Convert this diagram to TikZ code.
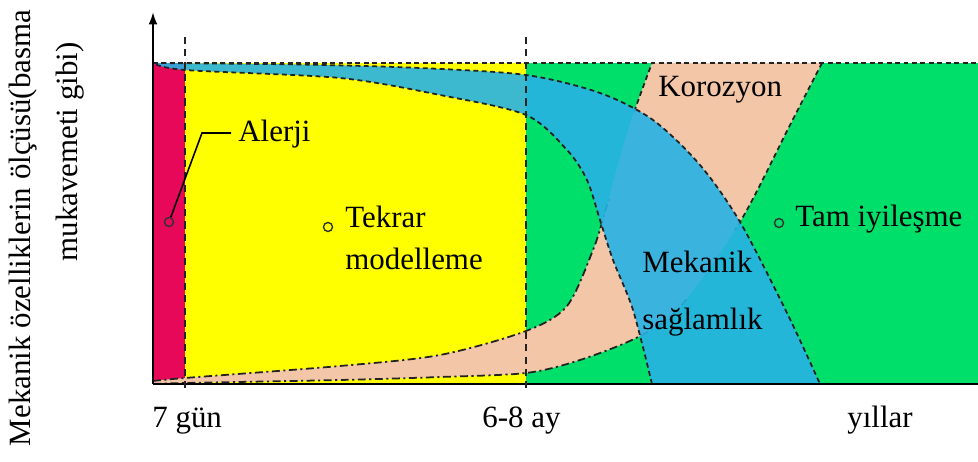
\documentclass[tikz,border=0pt]{standalone}
\usepackage{fontspec}
\setmainfont{Liberation Serif}
\usetikzlibrary{arrows.meta}
\definecolor{cred}{HTML}{E8085A}
\definecolor{cyel}{HTML}{FFFF00}
\definecolor{cgrn}{HTML}{00DF6A}
\definecolor{cblu}{HTML}{27B2E6}
\definecolor{cpch}{HTML}{F4C6A8}
\definecolor{cln}{HTML}{222222}
\tikzset{
  lbl/.style={font=\fontsize{17.6}{21}\selectfont, inner sep=0pt, anchor=base west},
  dsh/.style={draw=cln, line width=1pt, dash pattern=on 2.8pt off 2pt},
  dshdot/.style={draw=cln, line width=1pt, dash pattern=on 4.5pt off 2pt on 1.2pt off 2pt},
  vdash/.style={draw=cln, line width=0.9pt, dash pattern=on 4pt off 3pt},
  dot/.style={circle, draw=black!80, line width=0.8pt, minimum size=0.18cm, inner sep=0pt},
}
\begin{document}
\begin{tikzpicture}[x=0.02cm,y=-0.02cm]
\useasboundingbox (0,0) rectangle (978,462);
% background regions
\fill[cgrn] (526,63) rectangle (978,384);
\fill[cyel] (185,63) rectangle (526,384);
\fill[cred] (153,63) rectangle (185,384);
% corrosion (peach) region
\fill[cpch] plot[smooth] coordinates {(153,381)(185,378)(340,366)(440,355)(526,331)(567,306)(593,250)(605,212)(628,130)(652,63)}
  -- plot[smooth] coordinates {(822,63)(790,125)(740,222)(680,307)(638,337)(580,360)(526,373)(440,377)(340,380)(185,383)(153,384)} -- cycle;
% peach boundary lines
\begin{scope}
\clip (150,200) rectangle (980,390);
\draw[dshdot] plot[smooth] coordinates {(153,381)(185,378)(340,366)(440,355)(526,331)(567,306)(593,250)(605,212)(628,130)(652,63)};
\end{scope}
\begin{scope}
\clip (150,300) rectangle (980,390);
\draw[dshdot] plot[smooth] coordinates {(822,63)(790,125)(740,222)(680,307)(638,337)(580,360)(526,373)(440,377)(340,380)(185,383)(153,384)};
\end{scope}
\begin{scope}
\clip (150,60) rectangle (980,115);
\draw[dsh] plot[smooth] coordinates {(153,381)(185,378)(340,366)(440,355)(526,331)(567,306)(593,250)(605,212)(628,130)(652,63)};
\end{scope}
\begin{scope}
\clip (150,60) rectangle (980,230);
\draw[dsh] plot[smooth] coordinates {(822,63)(790,125)(740,222)(680,307)(638,337)(580,360)(526,373)(440,377)(340,380)(185,383)(153,384)};
\end{scope}
% mechanical strength (blue) band
\fill[cblu, opacity=0.9] plot[smooth] coordinates {(153,63)(300,64.5)(420,68)(526,75)(600,93)(653,120)(700,165)(740,222)(787,313)(820,384)}
  -- plot[smooth] coordinates {(652,384)(633,310)(613,260)(600,220)(587,180)(567,150)(526,115)(440,95)(340,78)(185,70)(153,63)} -- cycle;
\draw[dsh] plot[smooth] coordinates {(153,63)(300,64.5)(420,68)(526,75)(600,93)(653,120)(700,165)(740,222)(787,313)(820,384)};
\draw[dsh] plot[smooth] coordinates {(652,384)(633,310)(613,260)(600,220)(587,180)(567,150)(526,115)(440,95)(340,78)(185,70)(153,63)};
% frame lines
\coordinate (tl) at (153,63);
\coordinate (tr) at (978,63);
\coordinate (bl) at (153,384);
\coordinate (br) at (978,384);
\coordinate (ytop) at (153,12);
\draw[dsh] (tl) -- (tr);
\draw[line width=1.2pt, black] (bl) -- (br);
\draw[line width=1.2pt, black, -{Latex[length=7pt,width=5pt]}] (bl) -- (ytop);
\coordinate (v1t) at (185,37);
\coordinate (v1b) at (185,393);
\coordinate (v2t) at (526,37);
\coordinate (v2b) at (526,393);
\draw[vdash] (v1t) -- (v1b);
\draw[vdash] (v2t) -- (v2b);
% labels
\node[dot] (alc) at (169,222) {};
\coordinate (alk) at (202,133);
\coordinate (ale) at (231,133);
\draw[line width=0.9pt, black] (alc) -- (alk) -- (ale);
\node[lbl] (alerji) at (238,142) {Alerji};
\node[dot] (tkc) at (328,227) {};
\node[lbl] (tk1) at (345,228) {Tekrar};
\node[lbl] (tk2) at (345,270) {modelleme};
\node[lbl] (kor) at (658,97) {Korozyon};
\node[dot] (tmc) at (779,223) {};
\node[lbl] (tam) at (795,227) {Tam iyileşme};
\node[lbl] (mk1) at (642,273) {Mekanik};
\node[lbl] (mk2) at (642,330) {sağlamlık};
\node[lbl] (x1) at (152,428) {7 gün};
\node[lbl] (x2) at (482,428) {6-8 ay};
\node[lbl] (x3) at (847,428) {yıllar};
\node[font=\fontsize{17.6}{21}\selectfont, inner sep=0pt, rotate=90] (yl1) at (23,228) {Mekanik özelliklerin ölçüsü(basma};
\node[font=\fontsize{17.6}{21}\selectfont, inner sep=0pt, rotate=90] (yl2) at (70,152) {mukavemeti gibi)};
\end{tikzpicture}
\end{document}
